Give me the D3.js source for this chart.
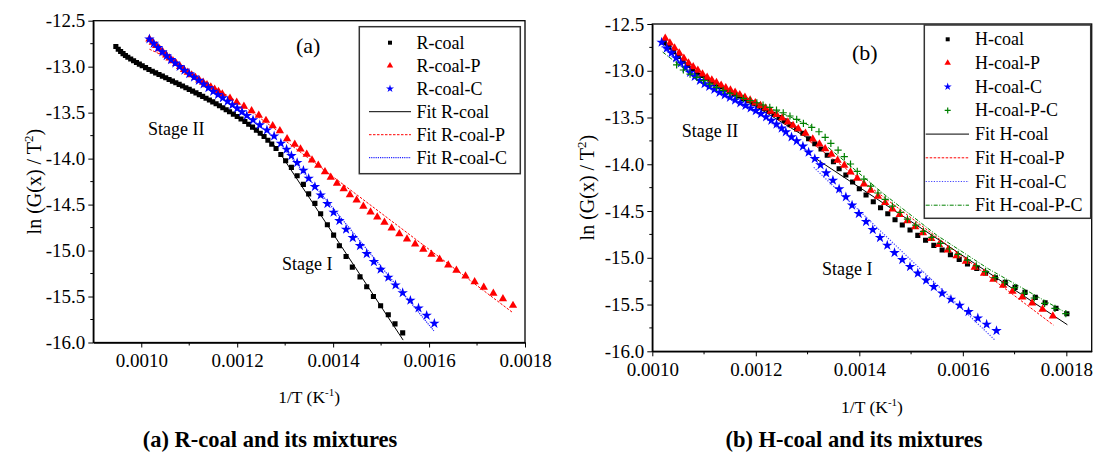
<!DOCTYPE html>
<html><head><meta charset="utf-8">
<script src="https://cdn.jsdelivr.net/npm/d3@7"></script>
<style>
html,body{margin:0;padding:0;background:#fff;}
svg{display:block;}
text{font-family:"Liberation Serif","Times New Roman",serif;fill:#000;}
</style></head>
<body><svg id="c" width="1094" height="455"></svg>
<script>
// ---------- DATA ----------
const xTicksA = [0.0010,0.0012,0.0014,0.0016,0.0018];
const xTicksB = [0.0010,0.0012,0.0014,0.0016,0.0018];
const yTicks = [-12.5,-13.0,-13.5,-14.0,-14.5,-15.0,-15.5,-16.0];

const legendA = ["R-coal","R-coal-P","R-coal-C","Fit R-coal","Fit R-coal-P","Fit R-coal-C"];
const legendB = ["H-coal","H-coal-P","H-coal-C","H-coal-P-C","Fit H-coal","Fit H-coal-P","Fit H-coal-C","Fit H-coal-P-C"];

// Panel (a)
const rCoal = [[0.000947,-12.78],[0.000952,-12.81],[0.000957,-12.835],[0.000962,-12.858],[0.000967,-12.878],[0.000972,-12.897],[0.000978,-12.917],[0.000984,-12.936],[0.000990,-12.954],[0.000996,-12.972],[0.001002,-12.99],[0.001009,-13.01],[0.001016,-13.03],[0.001023,-13.049],[0.001030,-13.067],[0.001037,-13.085],[0.001044,-13.103],[0.001051,-13.121],[0.001058,-13.139],[0.001065,-13.157],[0.001072,-13.175],[0.001079,-13.193],[0.001086,-13.211],[0.001093,-13.229],[0.001100,-13.247],[0.001107,-13.266],[0.001114,-13.285],[0.001121,-13.304],[0.001128,-13.323],[0.001135,-13.343],[0.001142,-13.363],[0.001149,-13.383],[0.001156,-13.404],[0.001163,-13.425],[0.001170,-13.447],[0.001177,-13.469],[0.001184,-13.491],[0.001192,-13.516],[0.001200,-13.542],[0.001208,-13.569],[0.001216,-13.597],[0.001224,-13.626],[0.001232,-13.657],[0.001240,-13.69],[0.001248,-13.724],[0.001256,-13.76],[0.001264,-13.8],[0.001272,-13.842],[0.001281,-13.89],[0.001291,-13.955],[0.001301,-14.023],[0.001313,-14.095],[0.001325,-14.187],[0.001338,-14.28],[0.001349,-14.383],[0.001362,-14.487],[0.001374,-14.6],[0.001388,-14.72],[0.001401,-14.832],[0.001413,-14.948],[0.001427,-15.064],[0.00144,-15.18],[0.001456,-15.286],[0.00147,-15.394],[0.001484,-15.499],[0.001499,-15.601],[0.001515,-15.699],[0.001529,-15.797],[0.001545,-15.895]];
const rCoalP = [[0.001017,-12.70],[0.001024,-12.735],[0.001031,-12.77],[0.001038,-12.805],[0.001045,-12.84],[0.001052,-12.874],[0.001059,-12.906],[0.001066,-12.937],[0.001073,-12.967],[0.001081,-13.0],[0.001089,-13.031],[0.001097,-13.061],[0.001105,-13.09],[0.001113,-13.118],[0.001121,-13.145],[0.001129,-13.171],[0.001137,-13.197],[0.001145,-13.222],[0.001153,-13.247],[0.001161,-13.272],[0.001169,-13.297],[0.001185,-13.345],[0.001199,-13.388],[0.001214,-13.432],[0.00123,-13.48],[0.001245,-13.53],[0.00126,-13.585],[0.001274,-13.643],[0.001289,-13.697],[0.001304,-13.784],[0.00132,-13.845],[0.001332,-13.896],[0.001345,-13.954],[0.001356,-14.016],[0.001369,-14.073],[0.001383,-14.143],[0.001395,-14.204],[0.001408,-14.269],[0.001422,-14.328],[0.001435,-14.393],[0.001449,-14.451],[0.001463,-14.52],[0.001478,-14.582],[0.001492,-14.636],[0.001507,-14.694],[0.001522,-14.756],[0.001538,-14.818],[0.001554,-14.875],[0.001571,-14.93],[0.001588,-14.987],[0.001605,-15.042],[0.001622,-15.096],[0.00164,-15.158],[0.001657,-15.216],[0.001676,-15.278],[0.001695,-15.34],[0.001714,-15.401],[0.001734,-15.466],[0.001754,-15.525],[0.001775,-15.597]];
const rCoalC = [[0.001017,-12.70],[0.001026,-12.748],[0.001035,-12.795],[0.001044,-12.84],[0.001053,-12.883],[0.001062,-12.924],[0.001071,-12.963],[0.00108,-13.0],[0.00109,-13.04],[0.0011,-13.078],[0.00111,-13.115],[0.00112,-13.151],[0.00113,-13.19],[0.00114,-13.23],[0.00115,-13.27],[0.00116,-13.305],[0.00117,-13.34],[0.00118,-13.377],[0.00119,-13.415],[0.0012,-13.453],[0.00121,-13.492],[0.00122,-13.532],[0.001233,-13.58],[0.001247,-13.635],[0.001262,-13.69],[0.001277,-13.755],[0.001291,-13.834],[0.001303,-13.899],[0.001313,-13.969],[0.001325,-14.045],[0.001338,-14.128],[0.001349,-14.215],[0.001362,-14.306],[0.001374,-14.397],[0.001388,-14.491],[0.001401,-14.585],[0.001413,-14.676],[0.001427,-14.77],[0.001441,-14.861],[0.001456,-14.948],[0.00147,-15.035],[0.001485,-15.122],[0.001499,-15.205],[0.001515,-15.292],[0.00153,-15.376],[0.001545,-15.46],[0.001561,-15.542],[0.001578,-15.626],[0.001595,-15.706],[0.001611,-15.793]];
const fitRCoal2 = [[0.000947,-12.80],[0.00100,-13.0],[0.00110,-13.25],[0.00120,-13.54],[0.00128,-13.87]];
const fitRCoal1 = [[0.00129,-13.947],[0.001546,-15.974]];
const fitRCoalP2 = [[0.001017,-12.81],[0.00105,-12.89],[0.00110,-13.06],[0.00120,-13.38],[0.00129,-13.72]];
const fitRCoalP1 = [[0.001303,-13.816],[0.001775,-15.677]];
const fitRCoalC2 = [[0.001017,-12.72],[0.00108,-13.0],[0.00115,-13.27],[0.00122,-13.53],[0.00128,-13.78]];
const fitRCoalC1 = [[0.001303,-13.925],[0.00161,-15.873]];

// Panel (b)
const hCoal = [[0.001023,-12.696],[0.001032,-12.746],[0.001041,-12.796],[0.00105,-12.848],[0.001059,-12.898],[0.001068,-12.942],[0.001077,-12.984],[0.001086,-13.02],[0.001095,-13.051],[0.001104,-13.08],[0.001113,-13.11],[0.001122,-13.14],[0.001131,-13.17],[0.00114,-13.197],[0.001149,-13.222],[0.001158,-13.245],[0.001167,-13.27],[0.001176,-13.295],[0.001185,-13.32],[0.001195,-13.348],[0.001205,-13.376],[0.001215,-13.405],[0.001225,-13.435],[0.001235,-13.466],[0.001245,-13.5],[0.001255,-13.535],[0.001266,-13.577],[0.001279,-13.623],[0.001291,-13.669],[0.001302,-13.727],[0.001314,-13.78],[0.001326,-13.837],[0.001338,-13.904],[0.00135,-13.973],[0.001361,-14.048],[0.001374,-14.115],[0.001387,-14.19],[0.0014,-14.261],[0.001413,-14.329],[0.001427,-14.4],[0.001441,-14.465],[0.001455,-14.529],[0.001469,-14.593],[0.001483,-14.65],[0.001498,-14.703],[0.001513,-14.76],[0.001528,-14.813],[0.001544,-14.867],[0.00156,-14.917],[0.001576,-14.967],[0.001593,-15.017],[0.001609,-15.067],[0.001627,-15.113],[0.001644,-15.163],[0.001663,-15.213],[0.001682,-15.263],[0.001701,-15.316],[0.00172,-15.37],[0.00174,-15.423],[0.001759,-15.481],[0.00178,-15.541],[0.001801,-15.598]];
const hCoalP = [[0.001025,-12.653],[0.001034,-12.705],[0.001043,-12.757],[0.001052,-12.81],[0.001061,-12.866],[0.00107,-12.917],[0.001079,-12.958],[0.001088,-12.995],[0.001097,-13.036],[0.001106,-13.07],[0.001115,-13.1],[0.001124,-13.127],[0.001133,-13.155],[0.001142,-13.182],[0.001151,-13.207],[0.00116,-13.23],[0.001169,-13.256],[0.001179,-13.284],[0.001189,-13.314],[0.001199,-13.344],[0.001209,-13.372],[0.001219,-13.4],[0.001229,-13.433],[0.00124,-13.47],[0.001251,-13.505],[0.001262,-13.548],[0.001272,-13.585],[0.001282,-13.62],[0.001296,-13.669],[0.00131,-13.73],[0.001323,-13.783],[0.001334,-13.834],[0.001346,-13.894],[0.001358,-13.958],[0.001371,-14.011],[0.001383,-14.083],[0.001396,-14.15],[0.001409,-14.211],[0.001422,-14.279],[0.001436,-14.343],[0.00145,-14.411],[0.001464,-14.479],[0.001478,-14.539],[0.001493,-14.604],[0.001508,-14.668],[0.001523,-14.732],[0.001539,-14.796],[0.001554,-14.86],[0.001571,-14.917],[0.001588,-14.978],[0.001606,-15.038],[0.001623,-15.102],[0.001641,-15.166],[0.001659,-15.23],[0.001678,-15.295],[0.001696,-15.359],[0.001715,-15.42],[0.001734,-15.484],[0.001754,-15.551],[0.001774,-15.623]];
const hCoalC = [[0.001018,-12.696],[0.001028,-12.76],[0.001037,-12.81],[0.001046,-12.864],[0.001055,-12.918],[0.001064,-12.97],[0.001073,-13.02],[0.001082,-13.062],[0.001092,-13.106],[0.001101,-13.14],[0.00111,-13.17],[0.00112,-13.2],[0.00113,-13.232],[0.00114,-13.259],[0.00115,-13.286],[0.00116,-13.315],[0.00117,-13.344],[0.00118,-13.372],[0.00119,-13.4],[0.0012,-13.428],[0.00121,-13.46],[0.00122,-13.494],[0.00123,-13.532],[0.00124,-13.572],[0.00125,-13.615],[0.001258,-13.655],[0.001269,-13.709],[0.001279,-13.751],[0.001291,-13.808],[0.001302,-13.872],[0.001314,-13.941],[0.001325,-14.008],[0.001336,-14.094],[0.001349,-14.172],[0.001361,-14.265],[0.001374,-14.35],[0.001386,-14.439],[0.001399,-14.529],[0.001413,-14.614],[0.001426,-14.7],[0.00144,-14.785],[0.001454,-14.867],[0.001468,-14.946],[0.001483,-15.021],[0.001498,-15.096],[0.001513,-15.166],[0.001529,-15.241],[0.001544,-15.31],[0.00156,-15.38],[0.001577,-15.445],[0.001594,-15.509],[0.001611,-15.577],[0.001629,-15.645],[0.001646,-15.712],[0.001665,-15.78]];
const hCoalPC = [[0.001047,-12.938],[0.00106,-12.992],[0.001073,-13.035],[0.001086,-13.07],[0.001099,-13.106],[0.001111,-13.142],[0.001124,-13.177],[0.001137,-13.209],[0.00115,-13.241],[0.001163,-13.27],[0.001176,-13.295],[0.001189,-13.32],[0.001202,-13.342],[0.001214,-13.366],[0.001227,-13.391],[0.00124,-13.42],[0.001253,-13.449],[0.001266,-13.484],[0.001279,-13.519],[0.001292,-13.562],[0.001308,-13.605],[0.001322,-13.652],[0.001334,-13.712],[0.001345,-13.776],[0.001359,-13.848],[0.001371,-13.919],[0.001383,-13.997],[0.001396,-14.075],[0.001409,-14.158],[0.001422,-14.233],[0.001436,-14.307],[0.00145,-14.375],[0.001464,-14.447],[0.001479,-14.514],[0.001493,-14.586],[0.001509,-14.65],[0.001524,-14.717],[0.00154,-14.781],[0.001557,-14.845],[0.001574,-14.906],[0.001591,-14.963],[0.001609,-15.024],[0.001626,-15.085],[0.001644,-15.149],[0.001662,-15.213],[0.001681,-15.267],[0.0017,-15.32],[0.001719,-15.377],[0.001738,-15.43],[0.001758,-15.487],[0.001778,-15.541],[0.001799,-15.598]];
const fitHCoal2 = [[0.001023,-12.72],[0.0011,-13.07],[0.0012,-13.38],[0.0013,-13.72]];
const fitHCoal1 = [[0.001318,-13.947],[0.001802,-15.716]];
const fitHCoalP2 = [[0.001025,-12.68],[0.0011,-13.05],[0.0012,-13.35],[0.0013,-13.70]];
const fitHCoalP1 = [[0.001305,-13.759],[0.001775,-15.719]];
const fitHCoalC2 = [[0.001018,-12.74],[0.0011,-13.14],[0.0012,-13.43],[0.0013,-13.86]];
const fitHCoalC1 = [[0.001312,-14.033],[0.001662,-15.88]];
const fitHCoalPC2 = [[0.00102,-12.80],[0.00105,-12.93],[0.0011,-13.10],[0.0012,-13.33],[0.00131,-13.60]];
const fitHCoalPC1 = [[0.00134,-13.82],[0.00145,-14.33],[0.00155,-14.76],[0.00165,-15.12],[0.0018,-15.59]];

// ---------- DRAWING ----------
const svg = d3.select("#c");
const FONT = 19;

function symPath(kind, size){
  if(kind==="square") return d3.symbol(d3.symbolSquare, size)();
  if(kind==="triangle") return d3.symbol(d3.symbolTriangle, size)();
  if(kind==="star") return d3.symbol(d3.symbolStar, size)();
  return null;
}
function drawMarker(g, kind, color, x, y, big){
  if(kind==="cross"){
    const r = big?3.6:3;
    g.append("path").attr("d",`M${x-r},${y}H${x+r}M${x},${y-r}V${y+r}`)
      .attr("stroke",color).attr("stroke-width",1.2).attr("fill","none");
  } else {
    const s = {square: big?26:16, triangle: big?30:18, star: big?34:20}[kind];
    g.append("path").attr("d",symPath(kind,s)).attr("transform",`translate(${x},${y})`)
      .attr("fill",color);
  }
}

function panel(cfg){
  const x = d3.scaleLinear().domain(cfg.xdom).range([cfg.x0,cfg.x1]);
  const y = d3.scaleLinear().domain([-12.5,-16.0]).range([cfg.y0,cfg.y1]);
  const g = svg.append("g");
  const line = d3.line().x(d=>x(d[0])).y(d=>y(d[1]));
  const clipId = "clip"+cfg.id;
  svg.append("clipPath").attr("id",clipId).append("rect")
    .attr("x",cfg.x0).attr("y",cfg.y0).attr("width",cfg.x1-cfg.x0).attr("height",cfg.y1-cfg.y0);
  const plot = g.append("g").attr("clip-path",`url(#${clipId})`);

  cfg.fits.forEach(f=>{
    f.parts.forEach(p=>{
      plot.append("path").attr("d",line(p)).attr("fill","none")
        .attr("stroke",f.color).attr("stroke-width",f.w||1)
        .attr("stroke-dasharray",f.dash||null);
    });
  });
  cfg.series.forEach(s=>{
    s.data.forEach(d=>drawMarker(plot,s.kind,s.color,x(d[0]),y(d[1]),true));
  });

  g.append("rect").attr("x",cfg.x0).attr("y",cfg.y0).attr("width",cfg.x1-cfg.x0).attr("height",cfg.y1-cfg.y0)
    .attr("fill","none").attr("stroke","#000").attr("stroke-width",1.3);

  const fmtY = v=>d3.format(".1f")(v).replace("\u2212","-");
  const ax = g.append("g").attr("transform",`translate(${cfg.x0},0)`)
    .call(d3.axisLeft(y).tickValues(yTicks).tickSize(5).tickSizeOuter(0).tickPadding(3).tickFormat(fmtY));
  const minorY = d3.range(-12.75,-16.0,-0.5);
  ax.selectAll(".minor").data(minorY).enter().append("line").attr("class","minor")
    .attr("x1",-3).attr("x2",0).attr("y1",d=>y(d)).attr("y2",d=>y(d)).attr("stroke","#000");
  const bx = g.append("g").attr("transform",`translate(0,${cfg.y1})`)
    .call(d3.axisBottom(x).tickValues(cfg.xticks).tickSize(5).tickSizeOuter(0).tickPadding(6).tickFormat(d3.format(".4f")));
  bx.selectAll(".minor").data(cfg.xminor).enter().append("line").attr("class","minor")
    .attr("x1",d=>x(d)).attr("x2",d=>x(d)).attr("y1",0).attr("y2",3).attr("stroke","#000");
  [ax,bx].forEach(a=>{
    a.attr("font-family",null);
    a.select(".domain").attr("stroke-width",1.4);
    a.selectAll("text").attr("font-size",FONT);
    a.selectAll(".tick line").attr("stroke-width",1);
  });

  const yt = g.append("text").attr("transform",`translate(${cfg.ytX},${(cfg.y0+cfg.y1)/2}) rotate(-90)`)
    .attr("text-anchor","middle").attr("font-size",20);
  yt.append("tspan").text("ln (G(x) / T");
  yt.append("tspan").attr("font-size",13).attr("dy",-8).text("2");
  yt.append("tspan").attr("dy",8).text(")");
  const xt = g.append("text").attr("x",(cfg.x0+cfg.x1)/2).attr("y",cfg.xtY)
    .attr("text-anchor","middle").attr("font-size",17.5);
  xt.append("tspan").text("1/T (K");
  xt.append("tspan").attr("font-size",11).attr("dy",-7).text("-1");
  xt.append("tspan").attr("dy",7).text(")");

  g.append("text").attr("x",cfg.tag[0]).attr("y",cfg.tag[1]).attr("font-size",22).text(cfg.tag[2]);
  g.append("text").attr("x",cfg.s2[0]).attr("y",cfg.s2[1]).attr("font-size",18).text("Stage II");
  g.append("text").attr("x",cfg.s1[0]).attr("y",cfg.s1[1]).attr("font-size",18).text("Stage I");

  const L = cfg.legend;
  const lg = g.append("g");
  lg.append("rect").attr("x",L.x).attr("y",L.y).attr("width",L.w).attr("height",L.h)
    .attr("fill","#fff").attr("stroke","#333").attr("stroke-width",1.5);
  cfg.legendNames.forEach((name,i)=>{
    const cy = L.y + L.first + i*L.step;
    const n = cfg.series.length;
    if(i<n){
      const s = cfg.series[i];
      drawMarker(lg,s.kind,s.color,L.sym,cy,false);
    } else {
      const f = cfg.fits[i-n];
      lg.append("line").attr("x1",L.l0).attr("x2",L.l1).attr("y1",cy).attr("y2",cy)
        .attr("stroke",f.color).attr("stroke-width",f.w||1).attr("stroke-dasharray",f.dash||null);
    }
    lg.append("text").attr("x",L.tx).attr("y",cy+6).attr("font-size",18).text(name);
  });

  g.append("text").attr("x",cfg.cap[0]).attr("y",cfg.cap[1]).attr("text-anchor","middle")
    .attr("font-size",22.5).attr("font-weight","bold").text(cfg.cap[2]);
}

panel({
  id:"A", x0:93.3, x1:525, y0:20.7, y1:342.5, xdom:[0.0009,0.0018],
  xticks:xTicksA, xminor:[0.0011,0.0013,0.0015,0.0017],
  series:[{data:rCoal,kind:"square",color:"#000"},{data:rCoalP,kind:"triangle",color:"#ff0000"},{data:rCoalC,kind:"star",color:"#0000ff"}],
  fits:[{parts:[fitRCoal2,fitRCoal1],color:"#000"},{parts:[fitRCoalP2,fitRCoalP1],color:"#ff0000",dash:"2.5,1.5"},{parts:[fitRCoalC2,fitRCoalC1],color:"#2222ff",dash:"1.2,1",w:1.2}],
  legendNames:legendA,
  legend:{x:359.3,y:26.7,w:161,h:147,first:16,step:23,sym:390,l0:369,l1:411,tx:416.5},
  ytX:41, xtY:403, tag:[296,53,"(a)"], s2:[148,135], s1:[282,270],
  cap:[270,447,"(a) R-coal and its mixtures"]
});
panel({
  id:"B", x0:652.3, x1:1091.7, y0:24, y1:351.3, xdom:[0.001,0.001849],
  xticks:xTicksB, xminor:[0.0011,0.0013,0.0015,0.0017],
  series:[{data:hCoal,kind:"square",color:"#000"},{data:hCoalP,kind:"triangle",color:"#ff0000"},{data:hCoalC,kind:"star",color:"#0000ff"},{data:hCoalPC,kind:"cross",color:"#008000"}],
  fits:[{parts:[fitHCoal2,fitHCoal1],color:"#000"},{parts:[fitHCoalP2,fitHCoalP1],color:"#ff0000",dash:"2.5,1.5"},{parts:[fitHCoalC2,fitHCoalC1],color:"#4444ff",dash:"1.2,1.5",w:1.2},{parts:[fitHCoalPC2,fitHCoalPC1],color:"#008000",dash:"4,1.5,1,1.5"}],
  legendNames:legendB,
  legend:{x:924.3,y:25,w:166.4,h:193.3,first:14.3,step:23.7,sym:947.7,l0:925.7,l1:969,tx:975},
  ytX:594, xtY:413, tag:[852,60,"(b)"], s2:[681.7,137], s1:[822,275],
  cap:[854,447,"(b) H-coal and its mixtures"]
});
</script></body></html>
